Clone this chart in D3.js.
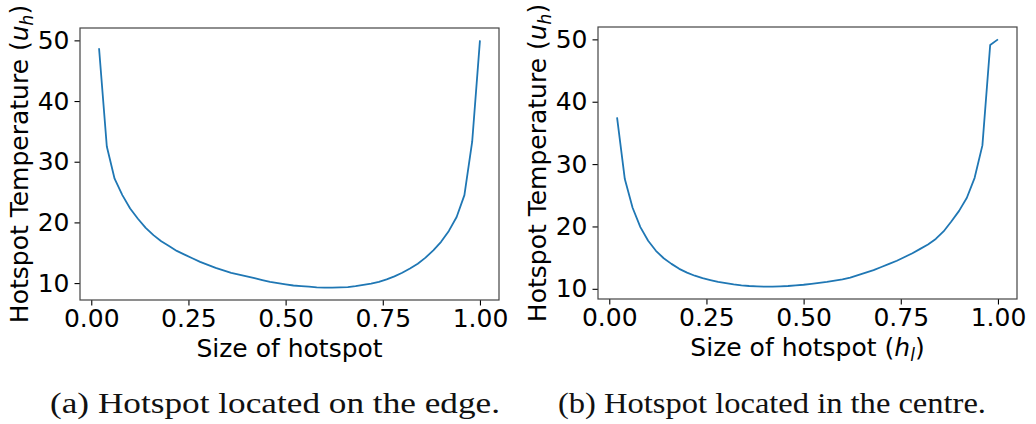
<!DOCTYPE html>
<html>
<head>
<meta charset="utf-8">
<script src="https://cdn.jsdelivr.net/npm/d3@7"></script>
<style>
  body { margin: 0; background: #fff; }
  svg { display: block; }
  .tick text { font-family: "DejaVu Sans", sans-serif; font-size: 25px; fill: #000; }
  .tick line { stroke: #000; stroke-width: 1.1; }
  .lbl { font-family: "DejaVu Sans", sans-serif; font-size: 25px; fill: #000; }
  .cap { font-family: "Times New Roman", "Liberation Serif", Times, serif; font-size: 30px; fill: #111; }
</style>
</head>
<body>
<svg id="fig" width="1036" height="424"></svg>
<script>
// hotspot size, sampled every 0.02
var sizes = [0.02, 0.04, 0.06, 0.08, 0.10, 0.12, 0.14, 0.16, 0.18, 0.20,
             0.22, 0.24, 0.26, 0.28, 0.30, 0.32, 0.34, 0.36, 0.38, 0.40,
             0.42, 0.44, 0.46, 0.48, 0.50, 0.52, 0.54, 0.56, 0.58, 0.60,
             0.62, 0.64, 0.66, 0.68, 0.70, 0.72, 0.74, 0.76, 0.78, 0.80,
             0.82, 0.84, 0.86, 0.88, 0.90, 0.92, 0.94, 0.96, 0.98, 1.00];

// (a) hotspot on the edge
var tempEdge = [48.7, 32.5, 27.2, 24.5, 22.3, 20.6, 19.1, 17.9, 16.9, 16.1,
                15.3, 14.7, 14.1, 13.5, 13.0, 12.5, 12.1, 11.7, 11.4, 11.1,
                10.8, 10.5, 10.2, 10.0, 9.8, 9.6, 9.5, 9.4, 9.3, 9.25,
                9.25, 9.3, 9.35, 9.5, 9.7, 9.9, 10.2, 10.6, 11.1, 11.7,
                12.4, 13.2, 14.2, 15.4, 16.8, 18.6, 20.9, 24.5, 33.3, 50.0];

// (b) hotspot in the centre
var tempCentre = [37.5, 27.6, 23.0, 19.9, 17.7, 16.1, 14.9, 14.0, 13.2, 12.6,
                  12.1, 11.7, 11.4, 11.1, 10.9, 10.7, 10.55, 10.45, 10.4, 10.35,
                  10.35, 10.4, 10.45, 10.55, 10.65, 10.8, 10.95, 11.1, 11.3, 11.5,
                  11.8, 12.2, 12.6, 13.0, 13.5, 14.0, 14.5, 15.1, 15.7, 16.4,
                  17.1, 18.0, 19.2, 20.8, 22.5, 24.6, 27.8, 33.0, 49.1, 50.0];

var xTicks = [0, 0.25, 0.5, 0.75, 1.0];
var yTicks = [10, 20, 30, 40, 50];
var captions = ["(a) Hotspot located on the edge.", "(b) Hotspot located in the centre."];
var xLabels = ["Size of hotspot", "Size of hotspot (h_l)"];

var svg = d3.select("#fig");

// matplotlib style 5% autoscale margin
function padded(ext) {
    var m = (ext[1] - ext[0]) * 0.05;
    return [ext[0] - m, ext[1] + m];
}

function panel(opts) {
    var g = svg.append("g");
    var x = d3.scaleLinear().domain(padded(d3.extent(sizes))).range([opts.left, opts.right]);
    var y = d3.scaleLinear().domain(padded(d3.extent(opts.values))).range([opts.bottom, opts.top]);

    var xAxis = d3.axisBottom(x).tickValues(xTicks).tickFormat(d3.format(".2f")).tickSize(5.5).tickPadding(4);
    var yAxis = d3.axisLeft(y).tickValues(yTicks).tickFormat(d3.format("d")).tickSize(5.5).tickPadding(5);

    g.append("g").attr("transform", "translate(0," + opts.bottom + ")").call(xAxis)
        .call(function(s) { s.select(".domain").remove(); });
    g.append("g").attr("transform", "translate(" + opts.left + ",0)").call(yAxis)
        .call(function(s) { s.select(".domain").remove(); });

    var line = d3.line()
        .x(function(d, i) { return x(sizes[i]); })
        .y(function(d) { return y(d); });

    g.append("path")
        .datum(opts.values)
        .attr("d", line)
        .attr("fill", "none")
        .attr("stroke", "#1f77b4")
        .attr("stroke-width", 1.8)
        .attr("stroke-linejoin", "round");

    g.append("rect")
        .attr("x", opts.left).attr("y", opts.top)
        .attr("width", opts.right - opts.left).attr("height", opts.bottom - opts.top)
        .attr("fill", "none").attr("stroke", "#444").attr("stroke-width", 1.2);

    // y label
    var yl = g.append("text").attr("class", "lbl")
        .attr("transform", "translate(" + (opts.left - 52) + "," + ((opts.top + opts.bottom) / 2) + ") rotate(-90)")
        .attr("text-anchor", "middle");
    yl.append("tspan").text("Hotspot Temperature (");
    yl.append("tspan").attr("font-style", "italic").text("u");
    yl.append("tspan").attr("font-style", "italic").attr("font-size", "17px").attr("dy", 5).text("h");
    yl.append("tspan").attr("dy", -5).text(")");

    // x label
    var xl = g.append("text").attr("class", "lbl")
        .attr("x", (opts.left + opts.right) / 2).attr("y", opts.bottom + 57)
        .attr("text-anchor", "middle");
    if (opts.sub) {
        xl.append("tspan").text("Size of hotspot (");
        xl.append("tspan").attr("font-style", "italic").text("h");
        xl.append("tspan").attr("font-style", "italic").attr("font-size", "17px").attr("dy", 5).text("l");
        xl.append("tspan").attr("dy", -5).text(")");
    } else {
        xl.text(opts.xlabel);
    }

    svg.append("text").attr("class", "cap")
        .attr("x", opts.capX).attr("y", 413)
        .attr("textLength", opts.capW).attr("lengthAdjust", "spacingAndGlyphs")
        .text(opts.caption);
}

panel({ left: 80, right: 499, top: 28, bottom: 300, values: tempEdge,
        xlabel: xLabels[0], sub: false, caption: captions[0], capX: 50, capW: 450 });
panel({ left: 598, right: 1017, top: 27, bottom: 299, values: tempCentre,
        xlabel: xLabels[1], sub: true, caption: captions[1], capX: 558, capW: 428 });
</script>
</body>
</html>
